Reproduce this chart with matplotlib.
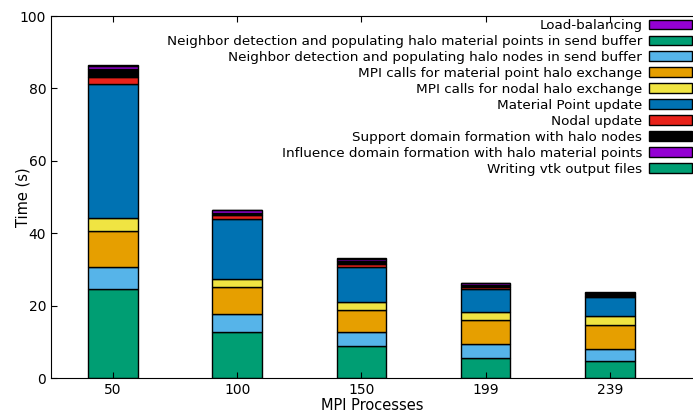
import matplotlib
matplotlib.use('Agg')
import matplotlib.pyplot as plt
import numpy as np

processes = ['50', '100', '150', '199', '239']

# stacked bottom -> top, same order as the legend (top -> bottom)
components = [
    'Load-balancing',
    'Neighbor detection and populating halo material points in send buffer',
    'Neighbor detection and populating halo nodes in send buffer',
    'MPI calls for material point halo exchange',
    'MPI calls for nodal halo exchange',
    'Material Point update',
    'Nodal update',
    'Support domain formation with halo nodes',
    'Influence domain formation with halo material points',
    'Writing vtk output files',
]
load_balancing = [0.0, 0.0, 0.0, 0.0, 0.0]
nbr_mat_points = [24.5, 12.8, 8.8, 5.4, 4.7]
nbr_halo_nodes = [6.1, 5.0, 4.0, 4.0, 3.2]
mpi_mat_points = [10.0, 7.3, 6.0, 6.5, 6.7]
mpi_nodal = [3.5, 2.2, 2.1, 2.4, 2.6]
mat_point_update = [37.0, 16.5, 9.8, 6.4, 5.1]
nodal_update = [2.1, 1.1, 0.9, 0.4, 0.4]
support_domain = [2.1, 0.6, 0.7, 0.5, 0.8]
influence_domain = [1.0, 0.8, 0.7, 0.6, 0.0]
writing_vtk = [0.05, 0.1, 0.1, 0.1, 0.3]

series = [load_balancing, nbr_mat_points, nbr_halo_nodes, mpi_mat_points, mpi_nodal,
          mat_point_update, nodal_update, support_domain, influence_domain, writing_vtk]
colors = ['#9400D3', '#009E73', '#56B4E9', '#E69F00', '#F0E442',
          '#0072B2', '#E8221A', '#000000', '#9400D3', '#009E73']

fig = plt.figure(figsize=(6.93, 4.16), dpi=100)
ax = fig.add_axes([51 / 693, 38 / 416, 1 - 51 / 693, 362 / 416])

x = np.arange(len(processes))
bottom = np.zeros(len(processes))
handles = []
for name, vals, c in zip(components, series, colors):
    vals = np.array(vals)
    b = ax.bar(x, vals, 0.4, bottom=bottom, color=c, edgecolor='black',
               linewidth=1.0, label=name)
    handles.append(b)
    bottom += vals

ax.set_xlim(-0.5, 4.67)
ax.set_ylim(0, 100)
ax.set_xticks(x)
ax.set_xticklabels(processes, fontsize=10)
ax.set_yticks([0, 20, 40, 60, 80, 100])
ax.tick_params(axis='y', labelsize=10)
ax.tick_params(direction='in', top=True, right=False, length=4)
ax.spines['right'].set_visible(False)
ax.set_xlabel('MPI Processes', fontsize=10.5, labelpad=1)
ax.set_ylabel('Time (s)', fontsize=10.5)
ax.yaxis.set_label_coords(-0.032, 0.5)

fig.legend(handles=handles, labels=components, loc='upper right',
           bbox_to_anchor=(692 / 693, 1 - 19 / 416), frameon=False,
           markerfirst=False, fontsize=9.7, labelspacing=0.22,
           handlelength=3.2, handletextpad=0.5, borderpad=0, borderaxespad=0)

fig.savefig('out.png', dpi=100)
